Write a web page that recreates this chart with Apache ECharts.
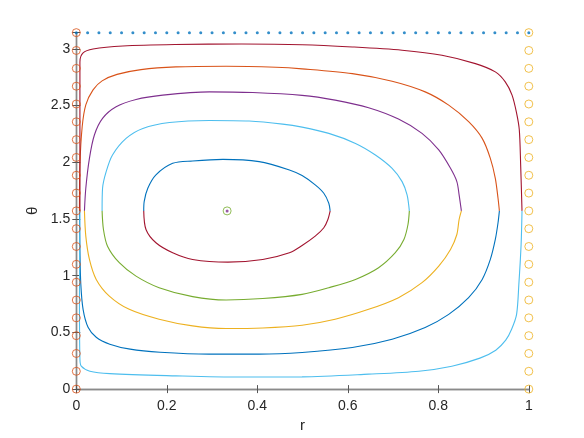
<!DOCTYPE html>
<html>
<head>
<meta charset="utf-8">
<script src="https://cdn.jsdelivr.net/npm/echarts@6/dist/echarts.min.js"></script>
<style>
  html, body { margin: 0; padding: 0; background: #fff; }
  #chart { width: 584px; height: 438px; }
</style>
</head>
<body>
<div id="chart"></div>
<script>
// tick labels
const xTicks = [0, 0.2, 0.4, 0.6, 0.8, 1]
const yTicks = [0, 0.5, 1, 1.5, 2, 2.5, 3]

// trajectories, [r, theta], upper and lower halves
const c1Upper = [[0.149, 1.571], [0.150, 1.653], [0.158, 1.770], [0.176, 1.888], [0.213, 1.990], [0.257, 2.011], [0.324, 2.025], [0.404, 2.005], [0.471, 1.932], [0.499, 1.882], [0.528, 1.800], [0.547, 1.726], [0.558, 1.638], [0.561, 1.571]]
const c1Lower = [[0.149, 1.571], [0.154, 1.407], [0.176, 1.290], [0.213, 1.202], [0.257, 1.143], [0.335, 1.119], [0.412, 1.143], [0.471, 1.202], [0.499, 1.266], [0.528, 1.348], [0.547, 1.422], [0.556, 1.495], [0.561, 1.571]]

const c2Upper = [[0.057, 1.571], [0.058, 1.770], [0.066, 1.917], [0.080, 2.064], [0.110, 2.210], [0.147, 2.298], [0.206, 2.350], [0.294, 2.368], [0.382, 2.363], [0.456, 2.336], [0.499, 2.309], [0.558, 2.254], [0.617, 2.166], [0.661, 2.064], [0.698, 1.946], [0.720, 1.829], [0.731, 1.712], [0.736, 1.571]]
const c2Lower = [[0.057, 1.571], [0.060, 1.407], [0.069, 1.260], [0.095, 1.114], [0.132, 0.996], [0.183, 0.894], [0.257, 0.815], [0.331, 0.785], [0.412, 0.798], [0.499, 0.835], [0.558, 0.894], [0.617, 0.967], [0.668, 1.070], [0.705, 1.202], [0.724, 1.319], [0.733, 1.451], [0.736, 1.571]]

const c3Upper = [[0.018, 1.571], [0.021, 1.770], [0.029, 2.034], [0.040, 2.240], [0.058, 2.386], [0.088, 2.488], [0.132, 2.553], [0.191, 2.591], [0.294, 2.620], [0.390, 2.614], [0.499, 2.589], [0.572, 2.547], [0.646, 2.480], [0.712, 2.380], [0.764, 2.254], [0.801, 2.108], [0.827, 1.946], [0.841, 1.829], [0.846, 1.712], [0.851, 1.571]]
const c3Lower = [[0.018, 1.571], [0.021, 1.348], [0.029, 1.143], [0.044, 0.967], [0.073, 0.820], [0.117, 0.703], [0.183, 0.616], [0.257, 0.557], [0.331, 0.534], [0.412, 0.539], [0.499, 0.563], [0.572, 0.616], [0.646, 0.703], [0.712, 0.806], [0.764, 0.938], [0.801, 1.084], [0.827, 1.231], [0.841, 1.363], [0.846, 1.495], [0.851, 1.571]]

const c4Upper = [[0.007, 1.571], [0.008, 1.978], [0.013, 2.313], [0.021, 2.506], [0.037, 2.638], [0.057, 2.717], [0.090, 2.774], [0.143, 2.816], [0.220, 2.840], [0.331, 2.846], [0.441, 2.837], [0.499, 2.823], [0.610, 2.781], [0.698, 2.714], [0.771, 2.620], [0.823, 2.503], [0.867, 2.357], [0.897, 2.210], [0.915, 2.034], [0.926, 1.858], [0.932, 1.682], [0.935, 1.571]]
const c4Lower = [[0.007, 1.571], [0.008, 1.231], [0.010, 0.923], [0.015, 0.703], [0.026, 0.545], [0.044, 0.457], [0.074, 0.396], [0.119, 0.352], [0.185, 0.325], [0.293, 0.308], [0.404, 0.308], [0.499, 0.323], [0.610, 0.367], [0.698, 0.440], [0.771, 0.543], [0.823, 0.659], [0.867, 0.806], [0.897, 0.967], [0.915, 1.143], [0.926, 1.319], [0.932, 1.466], [0.935, 1.571]]

const c5Upper = [[0.008, 1.571], [0.008, 2.884], [0.015, 2.963], [0.037, 2.998], [0.103, 3.025], [0.218, 3.038], [0.366, 3.042], [0.499, 3.036], [0.610, 3.016], [0.720, 2.987], [0.808, 2.943], [0.882, 2.869], [0.926, 2.796], [0.948, 2.708], [0.963, 2.591], [0.973, 2.433], [0.979, 2.286], [0.982, 1.978], [0.985, 1.571]]
const c5Lower = [[0.008, 1.571], [0.007, 0.791], [0.008, 0.264], [0.011, 0.202], [0.030, 0.158], [0.074, 0.136], [0.220, 0.117], [0.362, 0.106], [0.499, 0.108], [0.646, 0.132], [0.757, 0.158], [0.830, 0.202], [0.892, 0.273], [0.927, 0.343], [0.949, 0.431], [0.962, 0.528], [0.973, 0.659], [0.978, 0.923], [0.983, 1.275], [0.985, 1.571]]

// markers on the boundary
const edgeTheta = [0, 0.157, 0.314, 0.471, 0.628, 0.785, 0.942, 1.100, 1.257, 1.414, 1.571, 1.728, 1.885, 2.042, 2.199, 2.356, 2.513, 2.670, 2.827, 2.985, 3.142]
const topR = [0, 0.025, 0.05, 0.075, 0.1, 0.125, 0.15, 0.175, 0.2, 0.225, 0.25, 0.275, 0.3, 0.325, 0.35, 0.375, 0.4, 0.425, 0.45, 0.475, 0.5, 0.525, 0.55, 0.575, 0.6, 0.625, 0.65, 0.675, 0.7, 0.725, 0.75, 0.775, 0.8, 0.825, 0.85, 0.875, 0.9, 0.925, 0.95, 0.975, 1]
const thetaMax = 3.14159
const centerPoint = [0.3333, 1.5708]

const C = {
  blue: '#0072BD', orange: '#D95319', yellow: '#EDB120', purple: '#7E2F8E',
  green: '#77AC30', cyan: '#4DBEEE', maroon: '#A2142F'
}

const curves = [
  [c1Upper, C.blue], [c1Lower, C.maroon],
  [c2Upper, C.cyan], [c2Lower, C.green],
  [c3Upper, C.purple], [c3Lower, C.yellow],
  [c4Upper, C.orange], [c4Lower, C.blue],
  [c5Upper, C.maroon], [c5Lower, C.cyan]
]

const font = 'Liberation Sans, Arial, sans-serif'
const axisLine = { show: true, lineStyle: { color: '#8a8a8a', width: 1.4 } }
const tick = { show: true, inside: true, length: 4, lineStyle: { color: '#555', width: 1 } }

const chart = echarts.init(document.getElementById('chart'))

const series = curves.map(([pts, color]) => ({
  type: 'line',
  data: pts,
  showSymbol: false,
  smooth: 0.3,
  clip: false,
  lineStyle: { color: color, width: 1.1 },
  silent: true,
  z: 2
}))

series.push({
  type: 'scatter',
  data: topR.map(r => [r, thetaMax]),
  symbol: 'circle',
  symbolSize: 3,
  itemStyle: { color: C.blue },
  clip: false,
  z: 3
})
series.push({
  type: 'scatter',
  data: edgeTheta.map(t => [0, t]),
  symbol: 'circle',
  symbolSize: 8,
  itemStyle: { color: 'rgba(0,0,0,0)', borderColor: C.orange, borderWidth: 1 },
  clip: false,
  z: 4
})
series.push({
  type: 'scatter',
  data: edgeTheta.map(t => [1, t]),
  symbol: 'circle',
  symbolSize: 8,
  itemStyle: { color: 'rgba(0,0,0,0)', borderColor: C.yellow, borderWidth: 1 },
  clip: false,
  z: 4
})
series.push({
  type: 'scatter',
  data: [centerPoint],
  symbol: 'circle',
  symbolSize: 8,
  itemStyle: { color: 'rgba(0,0,0,0)', borderColor: C.green, borderWidth: 1 },
  z: 4
})
series.push({
  type: 'scatter',
  data: [centerPoint],
  symbol: 'circle',
  symbolSize: 3,
  itemStyle: { color: C.purple },
  z: 5
})

const option = {
  animation: false,
  backgroundColor: '#fff',
  grid: { left: 76.3, right: 55.2, top: 32.7, bottom: 48 },
  xAxis: [
    {
      type: 'value', min: 0, max: 1, interval: 0.2, position: 'bottom',
      name: 'r', nameLocation: 'middle', nameGap: 28,
      nameTextStyle: { fontFamily: font, fontSize: 15, color: '#262626' },
      axisLine: axisLine, axisTick: tick, splitLine: { show: false },
      axisLabel: {
        fontFamily: font, fontSize: 14, color: '#262626', margin: 10,
        formatter: v => xTicks.includes(+v.toFixed(2)) ? String(+v.toFixed(2)) : ''
      }
    },
    {
      type: 'value', min: 0, max: 1, interval: 0.2, position: 'top',
      axisLine: axisLine, axisTick: tick, splitLine: { show: false },
      axisLabel: { show: false }
    }
  ],
  yAxis: [
    {
      type: 'value', min: 0, max: thetaMax, interval: 0.5, position: 'left',
      name: 'θ', nameLocation: 'middle', nameGap: 22, nameRotate: 90,
      nameTextStyle: { fontFamily: font, fontSize: 15, color: '#262626' },
      axisLine: axisLine, axisTick: tick, splitLine: { show: false },
      axisLabel: {
        fontFamily: font, fontSize: 14, color: '#262626', margin: 6,
        formatter: v => yTicks.includes(+v.toFixed(2)) ? String(+v.toFixed(2)) : ''
      }
    },
    {
      type: 'value', min: 0, max: thetaMax, interval: 0.5, position: 'right',
      axisLine: axisLine, axisTick: tick, splitLine: { show: false },
      axisLabel: { show: false }
    }
  ],
  series: series
}

chart.setOption(option)
</script>
</body>
</html>
